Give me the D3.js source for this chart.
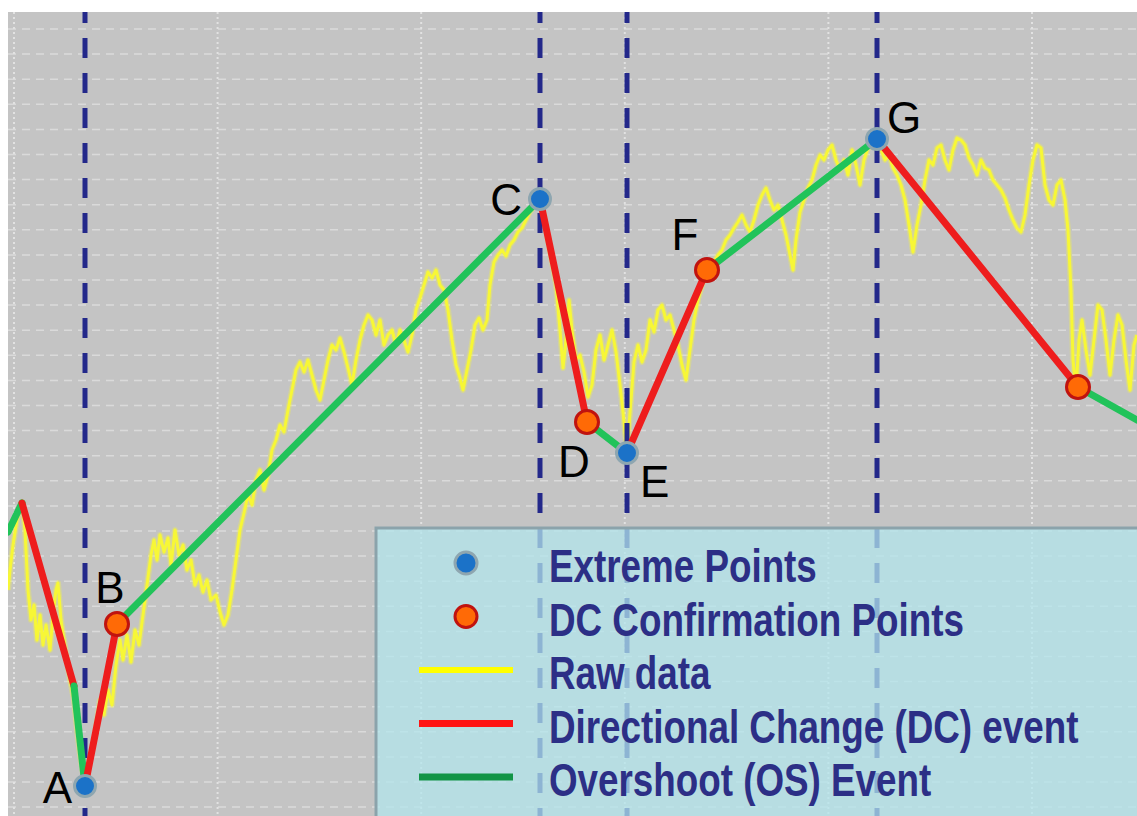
<!DOCTYPE html>
<html>
<head>
<meta charset="utf-8">
<script src="https://cdn.jsdelivr.net/npm/d3@7"></script>
<style>
  html, body { margin: 0; padding: 0; background: #ffffff; }
  svg { display: block; }
</style>
</head>
<body>
<svg id="chart" width="1137" height="816"></svg>
<script>
// ---------- DATA ----------
// Raw price series: [time, price]
const rawData = [
  [0,22.6],[2,24.6],[5,27.1],[9,29.6],[14,31.4],[17,28.6],[20,22.6],[23,19.6],[26,21.1],[29,17.6],
  [32,20.1],[35,17.1],[38,19.1],[42,16.6],[45,20.1],[48,22.6],[50,23.3],[53,19.6],[56,17.6],[59,15.6],
  [62,13.6],[66,11.6],[69,8.6],[72,6.1],[77,3.0],[82,5.6],[87,8.1],[92,11.6],[96,10.1],[100,12.6],
  [104,11.1],[108,15.1],[112,17.6],[115,15.6],[119,18.1],[123,15.4],[127,18.6],[131,17.1],[135,20.1],[139,23.1],
  [143,26.1],[146,27.6],[149,25.6],[152,28.1],[156,26.4],[160,27.8],[163,25.1],[167,28.6],[171,26.1],[175,27.1],
  [179,24.6],[183,25.6],[187,23.1],[191,24.1],[195,22.4],[199,23.6],[203,21.6],[208,22.1],[212,20.4],[216,19.1],
  [220,20.1],[224,22.6],[228,25.6],[232,28.6],[236,30.3],[240,32.1],[244,31.1],[248,33.6],[252,34.6],[256,32.6],
  [260,34.1],[264,36.6],[268,37.6],[272,39.1],[276,38.4],[280,40.6],[284,42.6],[288,44.6],[292,45.4],[296,44.4],
  [300,45.6],[304,44.1],[308,42.6],[312,41.6],[316,43.6],[320,45.6],[324,47.1],[328,46.6],[332,47.8],[336,46.4],
  [340,44.8],[344,43.1],[348,45.6],[352,47.6],[356,49.1],[360,50.1],[364,49.6],[368,48.1],[372,49.6],[376,47.1],
  [380,48.1],[384,48.6],[388,47.1],[392,48.6],[396,47.6],[400,46.4],[404,48.1],[408,50.6],[412,51.8],[416,53.1],
  [420,54.4],[424,53.8],[428,54.6],[432,53.1],[436,52.6],[440,50.6],[444,47.6],[448,45.1],[452,43.8],[455,42.6],
  [459,44.6],[463,46.6],[467,49.1],[471,49.8],[475,48.6],[479,49.6],[482,53.1],[486,55.4],[490,56.1],[494,56.6],
  [498,56.0],[502,57.1],[506,57.6],[510,58.4],[514,58.8],[518,59.6],[522,60.4],[527,61.1],[532,61.7],[536,60.1],
  [540,57.6],[544,55.4],[548,53.1],[552,48.6],[555,44.8],[558,47.6],[561,51.6],[564,48.6],[568,45.6],[572,46.1],
  [576,44.4],[580,41.9],[584,43.1],[588,46.6],[592,48.1],[596,45.6],[600,47.1],[604,48.6],[608,46.4],[612,43.1],
  [615,40.4],[619,36.4],[623,41.6],[626,45.4],[630,47.1],[634,45.4],[638,46.6],[642,49.6],[646,48.4],[650,50.6],
  [654,51.1],[658,49.6],[662,50.1],[666,48.6],[670,47.1],[674,45.1],[678,43.6],[682,46.6],[686,49.6],[690,51.6],
  [694,53.1],[698,54.4],[702,54.8],[706,55.4],[710,56.1],[714,56.6],[718,57.6],[722,58.1],[726,58.8],[730,59.4],
  [734,60.1],[738,59.1],[742,58.4],[746,59.6],[750,61.1],[754,62.1],[758,62.8],[762,61.6],[766,60.6],[770,61.1],
  [774,59.6],[778,58.1],[782,56.1],[785,54.6],[788,57.6],[792,60.4],[796,61.6],[800,62.8],[804,63.6],[808,65.1],
  [812,66.1],[816,65.6],[820,66.6],[824,67.1],[828,65.6],[832,64.6],[836,65.6],[840,64.1],[844,66.6],[848,65.1],
  [852,63.1],[856,65.6],[860,66.8],[864,67.1],[869,67.7],[873,66.6],[877,65.6],[881,66.1],[885,64.8],[889,64.1],
  [893,63.1],[897,61.6],[901,59.1],[905,56.4],[909,59.1],[913,61.1],[917,63.6],[921,65.6],[925,65.1],[929,66.8],
  [933,67.1],[937,65.6],[941,64.6],[945,66.6],[949,67.8],[953,67.6],[957,67.1],[961,65.8],[965,65.1],[969,64.1],
  [973,65.6],[977,64.8],[981,64.6],[985,63.6],[989,63.1],[993,62.6],[997,61.8],[1001,60.6],[1005,59.6],[1009,58.8],
  [1013,58.4],[1017,60.1],[1021,63.1],[1025,65.6],[1029,67.1],[1033,66.8],[1037,63.1],[1041,61.6],[1045,61.1],[1049,63.1],
  [1053,63.6],[1057,61.6],[1060,58.6],[1063,52.6],[1065,45.6],[1068,42.6],[1071,47.6],[1074,49.6],[1078,46.6],[1082,44.1],
  [1086,47.6],[1090,51.1],[1094,50.6],[1098,47.6],[1102,44.1],[1106,47.6],[1110,50.1],[1114,49.1],[1118,45.6],[1122,42.6],
  [1126,47.1],[1129,48.1]
];

// Zig-zag turning points of the DC / OS segmentation
const turnT = [0, 14, 66, 77, 109, 532, 579, 619, 699, 869, 1070, 1129];
const turnV = [28.4, 31.3, 13.0, 3.0, 19.2, 61.7, 39.4, 36.3, 54.6, 67.7, 42.9, 39.6];
const segEvent = ["OS", "DC", "OS", "DC", "OS", "DC", "OS", "DC", "OS", "DC", "OS"];

// Marked points
const pointLabels = ["A", "B", "C", "D", "E", "F", "G", ""];
const pointT = [77, 109, 532, 579, 619, 699, 869, 1070];
const pointV = [3.0, 19.2, 61.7, 39.4, 36.3, 54.6, 67.7, 42.9];
const pointType = ["EXT", "DCC", "EXT", "DCC", "EXT", "DCC", "EXT", "DCC"];

// Legend
const legendLabels = ["Extreme Points", "DC Confirmation Points", "Raw data",
                      "Directional Change (DC) event", "Overshoot (OS) Event"];
const legendKinds = ["EXT", "DCC", "RAW", "DC", "OS"];

// ---------- STYLE ----------
const plot = { left: 8, top: 12, right: 1137, bottom: 816 };
const colors = {
  bg: "#c4c4c4",
  raw: "#f7f736",
  DC: "#ee1d1d",
  OS: "#21c35a",
  extFill: "#1b72c8", extStroke: "#8ea6b0",
  dccFill: "#ff6a06", dccStroke: "#c0130f",
  vdash: "#23288a",
  legendText: "#2c2f86",
  legRaw: "#ffff00", legDC: "#ff1414", legOS: "#129446"
};
// label offsets (px) relative to point: [dx, dy, anchor]
const labelOffset = {
  A: [-13, 17, "end"], B: [-7, -21, "middle"], C: [-18, 16, "end"],
  D: [-13, 55, "middle"], E: [13, 44, "start"], F: [-22, -20, "middle"],
  G: [10, -6, "start"]
};

// ---------- SCALES ----------
const x = d3.scaleLinear().domain([0, 1129]).range([plot.left, plot.right]);
const y = d3.scaleLinear().domain([0, 80.4]).range([plot.bottom, plot.top]);

const svg = d3.select("#chart");
svg.append("defs").append("clipPath").attr("id", "clip")
  .append("rect").attr("x", plot.left).attr("y", plot.top)
  .attr("width", plot.right - plot.left).attr("height", plot.bottom - plot.top);

const g = svg.append("g").attr("clip-path", "url(#clip)");

// background
g.append("rect").attr("x", plot.left).attr("y", plot.top)
  .attr("width", plot.right - plot.left).attr("height", plot.bottom - plot.top)
  .attr("fill", colors.bg);

// grid: horizontal dashed every 2.51 price units, vertical dotted every 203.6 time units
const gridY = d3.range(78.7, 0, -2.51);
const gridX = d3.range(6, 1129, 203.6);
g.append("g").selectAll("line").data(gridY).join("line")
  .attr("x1", plot.left).attr("x2", plot.right)
  .attr("y1", d => y(d)).attr("y2", d => y(d))
  .attr("stroke", "#dadada").attr("stroke-width", 1.5)
  .attr("stroke-dasharray", "8,6");
g.append("g").selectAll("line").data(gridX).join("line")
  .attr("x1", d => x(d)).attr("x2", d => x(d))
  .attr("y1", plot.top).attr("y2", plot.bottom)
  .attr("stroke", "#e2e2e2").attr("stroke-width", 2)
  .attr("stroke-dasharray", "2,3");

// raw data
const line = d3.line().x(d => x(d[0])).y(d => y(d[1]));
g.append("path").datum(rawData)
  .attr("d", line).attr("fill", "none")
  .attr("stroke", colors.raw).attr("stroke-width", 6).attr("stroke-opacity", 0.3)
  .attr("stroke-linejoin", "round");
g.append("path").datum(rawData)
  .attr("d", line).attr("fill", "none")
  .attr("stroke", colors.raw).attr("stroke-width", 3)
  .attr("stroke-linejoin", "round");

// vertical dashed lines at extreme points
const extIdx = pointType.map((t, i) => t === "EXT" ? i : -1).filter(i => i >= 0);
g.append("g").selectAll("line").data(extIdx).join("line")
  .attr("x1", i => x(pointT[i])).attr("x2", i => x(pointT[i]))
  .attr("y1", plot.top).attr("y2", plot.bottom)
  .attr("stroke", colors.vdash).attr("stroke-width", 5)
  .attr("stroke-dasharray", "20,15").attr("stroke-dashoffset", 9);

// zig-zag segments
const segs = segEvent.map((e, i) => ({ e, i }));
g.append("g").selectAll("line").data(segs).join("line")
  .attr("x1", d => x(turnT[d.i])).attr("y1", d => y(turnV[d.i]))
  .attr("x2", d => x(turnT[d.i + 1])).attr("y2", d => y(turnV[d.i + 1]))
  .attr("stroke", d => d.e === "DC" ? colors.DC : colors.OS)
  .attr("stroke-width", 7).attr("stroke-linecap", "round");

// points
const pts = pointT.map((t, i) => ({ t, v: pointV[i], type: pointType[i], label: pointLabels[i] }));
g.append("g").selectAll("circle").data(pts).join("circle")
  .attr("cx", d => x(d.t)).attr("cy", d => y(d.v))
  .attr("r", d => d.type === "EXT" ? 10.5 : 11.5)
  .attr("fill", d => d.type === "EXT" ? colors.extFill : colors.dccFill)
  .attr("stroke", d => d.type === "EXT" ? colors.extStroke : colors.dccStroke)
  .attr("stroke-width", 3);

// labels
g.append("g").selectAll("text").data(pts.filter(d => d.label)).join("text")
  .attr("x", d => x(d.t) + labelOffset[d.label][0])
  .attr("y", d => y(d.v) + labelOffset[d.label][1])
  .attr("text-anchor", d => labelOffset[d.label][2])
  .attr("font-family", "'Liberation Sans', Arial, sans-serif")
  .attr("font-size", 44).attr("fill", "#000")
  .text(d => d.label);

// ---------- LEGEND ----------
const leg = svg.append("g");
const lgX = 376, lgY = 528;
leg.append("rect").attr("x", lgX).attr("y", lgY).attr("width", 800).attr("height", 320)
  .attr("fill", "#b2e6ec").attr("fill-opacity", 0.74);
leg.append("rect").attr("x", lgX).attr("y", lgY).attr("width", 800).attr("height", 320)
  .attr("fill", "none").attr("stroke", "#8ba3ab").attr("stroke-width", 3);

const rowY = i => lgY + 35 + i * 53.5;
const symX = 466;
legendKinds.forEach((k, i) => {
  const cy = rowY(i);
  if (k === "EXT" || k === "DCC") {
    leg.append("circle").attr("cx", symX).attr("cy", cy).attr("r", 11)
      .attr("fill", k === "EXT" ? colors.extFill : colors.dccFill)
      .attr("stroke", k === "EXT" ? colors.extStroke : colors.dccStroke)
      .attr("stroke-width", 3);
  } else {
    const c = k === "RAW" ? colors.legRaw : (k === "DC" ? colors.legDC : colors.legOS);
    leg.append("line").attr("x1", 419).attr("x2", 513).attr("y1", cy).attr("y2", cy)
      .attr("stroke", c).attr("stroke-width", k === "RAW" ? 6 : 7);
  }
  leg.append("text")
    .attr("transform", `translate(549,${cy + 19}) scale(0.8,1)`)
    .attr("font-family", "'Liberation Sans', Arial, sans-serif")
    .attr("font-weight", "bold").attr("font-size", 46)
    .attr("fill", colors.legendText)
    .text(legendLabels[i]);
});
</script>
</body>
</html>
